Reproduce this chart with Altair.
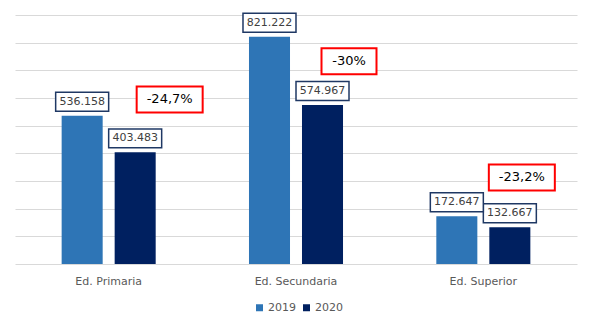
import altair as alt
import pandas as pd

categories = ["Ed. Primaria", "Ed. Secundaria", "Ed. Superior"]
years = ["2019", "2020"]
values_2019 = [536158, 821222, 172647]
values_2020 = [403483, 574967, 132667]
pct_labels = ["-24,7%", "-30%", "-23,2%"]
pct_level = [595000, 733000, 313000]
pct_dx = [61, 53, 38.5]
pct_w = [66, 55, 66]

FONT = "DejaVu Sans"
C2019 = "#2E75B6"
C2020 = "#002060"
NAVY = "#1F3864"


def fmt(v):
    return f"{v:,}".replace(",", ".")


rows = []
for c, a, b in zip(categories, values_2019, values_2020):
    rows.append({"cat": c, "year": "2019", "value": a, "label": fmt(a)})
    rows.append({"cat": c, "year": "2020", "value": b, "label": fmt(b)})
df = pd.DataFrame(rows)

xenc = alt.X(
    "cat:N",
    scale=alt.Scale(domain=categories, paddingInner=0, paddingOuter=0),
    axis=alt.Axis(
        title=None, ticks=False, tickSize=0, domain=False, labelPadding=11,
        labelFont=FONT, labelFontSize=11, labelColor="#595959", labelAngle=0,
    ),
)
yenc = alt.Y(
    "value:Q",
    scale=alt.Scale(domain=[0, 900000]),
    axis=alt.Axis(
        title=None, labels=False, ticks=False, domain=False,
        values=list(range(0, 900001, 100000)), gridColor="#D9D9D9", gridWidth=1,
    ),
)
xoff = alt.XOffset(
    "year:N", scale=alt.Scale(domain=years, paddingInner=0.226, paddingOuter=0.88)
)

bars = alt.Chart(df).mark_bar().encode(
    x=xenc,
    xOffset=xoff,
    y=yenc,
    color=alt.Color(
        "year:N",
        scale=alt.Scale(domain=years, range=[C2019, C2020]),
        legend=alt.Legend(
            orient="none", direction="horizontal", legendX=239, legendY=287,
            title=None, symbolType="square", symbolSize=49, symbolStrokeWidth=0,
            labelFont=FONT, labelFontSize=11, labelColor="#595959",
            columnPadding=5, labelOffset=3, padding=0,
        ),
    ),
)

box_path = "M-1,-0.358L1,-0.358L1,0.358L-1,0.358Z"


def value_boxes(data, shift):
    box = alt.Chart(data).mark_point(
        shape=box_path, size=53 * 53, filled=True, fill="white", fillOpacity=1,
        stroke=NAVY, strokeWidth=1.5, opacity=1, yOffset=-14, xOffset=shift,
    ).encode(x=xenc, xOffset=xoff, y=yenc)
    txt = alt.Chart(data).mark_text(
        font=FONT, fontSize=11, color="#404040", baseline="middle",
        yOffset=-14, xOffset=shift,
    ).encode(x=xenc, xOffset=xoff, y=yenc, text="label:N")
    return [box, txt]


is_special = (df["cat"] == "Ed. Superior") & (df["year"] == "2019")
layers = [bars]
layers += value_boxes(df[~is_special], 0)
layers += value_boxes(df[is_special], -9.5)

for c, t, lvl, dx, w in zip(categories, pct_labels, pct_level, pct_dx, pct_w):
    d = pd.DataFrame({"cat": [c], "value": [lvl], "label": [t]})
    h = 26 / w
    path = f"M-1,-{h:.4f}L1,-{h:.4f}L1,{h:.4f}L-1,{h:.4f}Z"
    layers.append(
        alt.Chart(d).mark_point(
            shape=path, size=w * w, filled=True, fill="white", fillOpacity=1,
            stroke="#FF0000", strokeWidth=2, opacity=1, xOffset=dx,
        ).encode(x=xenc, y=yenc)
    )
    layers.append(
        alt.Chart(d).mark_text(
            font=FONT, fontSize=13, color="#000000", baseline="middle", xOffset=dx,
        ).encode(x=xenc, y=yenc, text="label:N")
    )

chart = alt.layer(*layers).properties(
    width=562,
    height=249,
    padding={"left": 15, "top": 15, "right": 15, "bottom": 64},
    autosize=alt.AutoSizeParams(type="none"),
    background="white",
).configure_view(stroke=None)

chart.save("out.html", embed_options={"renderer": "svg", "actions": False})
